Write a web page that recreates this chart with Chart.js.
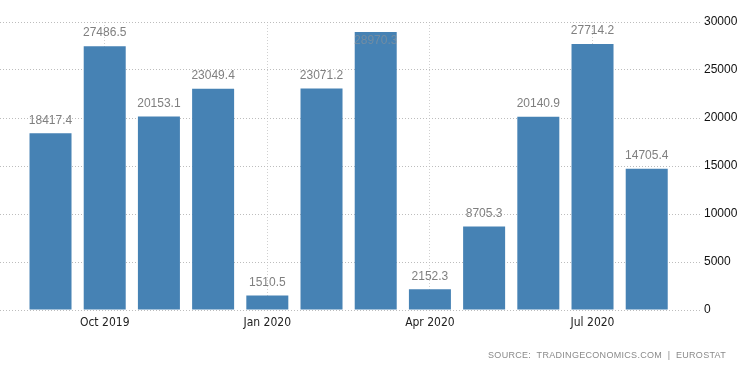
<!DOCTYPE html>
<html>
<head>
<meta charset="utf-8">
<script src="https://cdn.jsdelivr.net/npm/chart.js@4"></script>
<style>
  html, body { margin: 0; padding: 0; background: #fff; }
  #wrap { position: relative; width: 750px; height: 373px; }
  #source { position: absolute; right: 24px; top: 350px; font: 9px "Liberation Sans Narrow", "Liberation Sans", sans-serif; color: #8a8a8a; letter-spacing: 0.3px; white-space: nowrap; }
</style>
</head>
<body>
<div id="wrap">
  <canvas id="c" width="750" height="373"></canvas>
  <div id="source">SOURCE:&nbsp; TRADINGECONOMICS.COM &nbsp;|&nbsp; EUROSTAT</div>
</div>
<script>
const categories = ['Sep 2019','Oct 2019','Nov 2019','Dec 2019','Jan 2020','Feb 2020','Mar 2020','Apr 2020','May 2020','Jun 2020','Jul 2020','Aug 2020'];
const values = [18417.4, 27486.5, 20153.1, 23049.4, 1510.5, 23071.2, 28970.3, 2152.3, 8705.3, 20140.9, 27714.2, 14705.4];
const tickLabels = ['Oct 2019','Jan 2020','Apr 2020','Jul 2020'];
const yTicks = [0, 5000, 10000, 15000, 20000, 25000, 30000];

const points = values.map((v, i) => ({ x: i, y: v }));
const tickIdx = tickLabels.map(l => categories.indexOf(l));

const valueLabels = {
  id: 'valueLabels',
  afterDatasetsDraw(chart) {
    const ctx = chart.ctx;
    const meta = chart.getDatasetMeta(0);
    ctx.save();
    ctx.font = '12px "Liberation Sans", Arial, sans-serif';
    ctx.textAlign = 'center';
    ctx.textBaseline = 'middle';
    meta.data.forEach((bar, i) => {
      let y = bar.y - 13;
      if (y < chart.chartArea.top + 8) {
        y = bar.y + 9;
        ctx.fillStyle = 'rgba(150,150,150,0.55)';
      } else {
        ctx.fillStyle = '#7f7f7f';
      }
      ctx.fillText(values[i].toFixed(1), bar.x, y);
    });
    ctx.restore();
  }
};

new Chart(document.getElementById('c'), {
  type: 'bar',
  data: {
    datasets: [{
      data: points,
      backgroundColor: '#4682b4',
      borderWidth: 0,
      categoryPercentage: 1,
      barPercentage: 0.775
    }]
  },
  options: {
    responsive: false,
    animation: false,
    layout: { padding: { top: 22, left: 0, right: 0, bottom: 0 } },
    plugins: { legend: { display: false }, tooltip: { enabled: false } },
    scales: {
      x: {
        type: 'linear',
        offset: false,
        min: -0.932,
        max: 11.983,
        afterBuildTicks(scale) { scale.ticks = tickIdx.map(v => ({ value: v })); },
        afterFit(scale) { scale.height = 63; },
        ticks: {
          autoSkip: false,
          maxRotation: 0,
          padding: 6,
          color: '#222',
          font: { family: '"DejaVu Sans Condensed", "Liberation Sans", sans-serif', size: 12 },
          callback: (v) => categories[v]
        },
        grid: { offset: false, color: '#d0d0d0', drawTicks: false, lineWidth: 1 },
        border: { display: false, dash: [1, 2] }
      },
      y: {
        position: 'right',
        min: 0,
        max: 30000,
        afterBuildTicks(scale) { scale.ticks = yTicks.map(v => ({ value: v })); },
        afterFit(scale) { scale.width = 50; },
        ticks: {
          padding: 4,
          color: '#111',
          font: { family: '"Liberation Sans Narrow", "Liberation Sans", sans-serif', size: 12 },
          callback: (v) => String(v)
        },
        grid: { color: '#bdbdbd', drawTicks: false, lineWidth: 1 },
        border: { display: false, dash: [1, 2] }
      }
    }
  },
  plugins: [valueLabels]
});
</script>
</body>
</html>
